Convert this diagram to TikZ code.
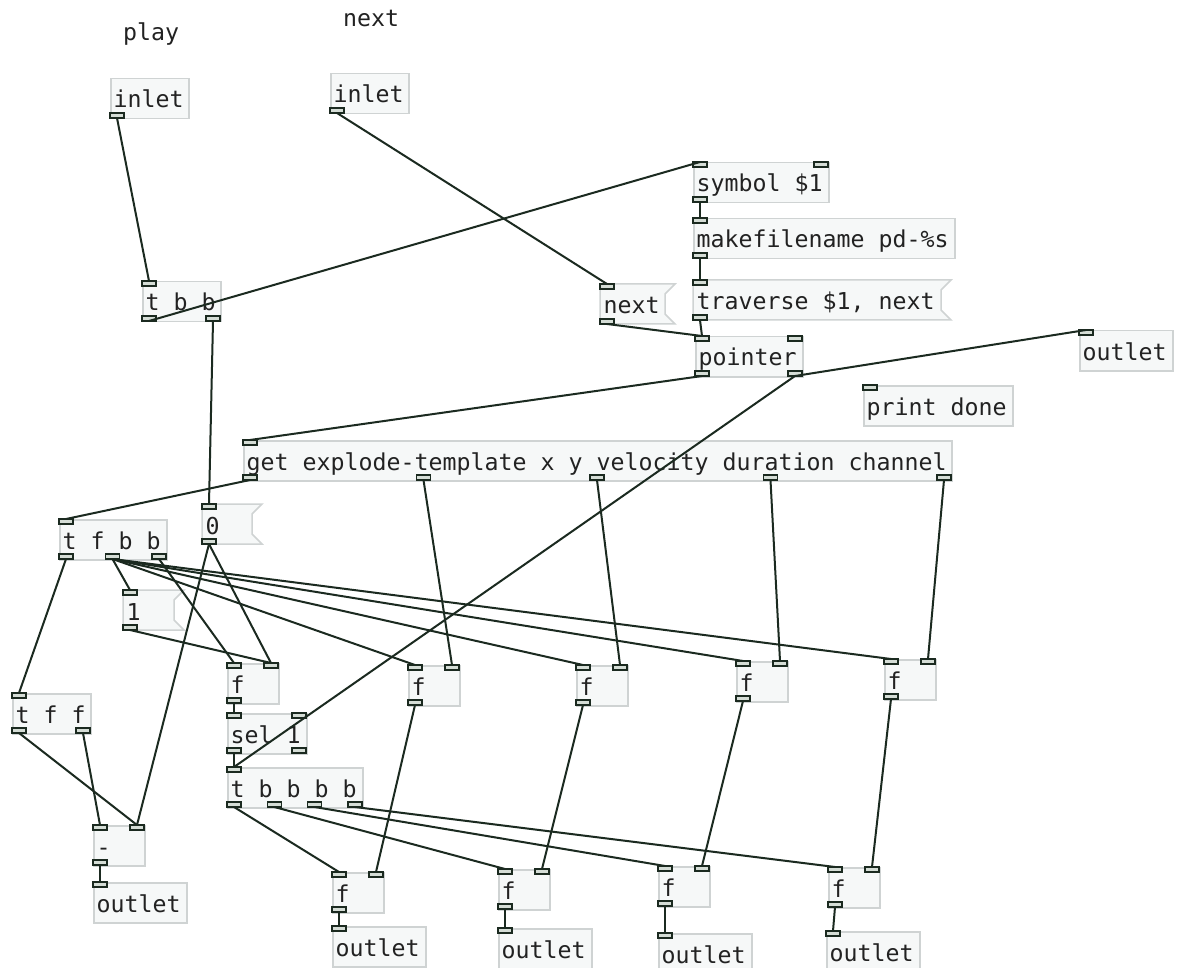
\documentclass[tikz,border=0pt]{standalone}
\usepackage{fontspec}
\newfontfamily\pdmono{DejaVu Sans Mono}
\definecolor{wirecol}{HTML}{1B2A20}
\definecolor{boxline}{HTML}{CFD3D3}
\definecolor{boxfill}{HTML}{F6F8F8}
\definecolor{nubfill}{HTML}{D5DDD6}
\definecolor{txt}{HTML}{222222}
\tikzset{
  pdbox/.style={draw=boxline, fill=boxfill, line width=1.5pt, rectangle, inner sep=0pt, minimum height=40pt, anchor=north west},
  pdghost/.style={rectangle, inner sep=0pt, minimum height=40pt, anchor=north west},
  msgshape/.style={draw=boxline, fill=boxfill, line width=1.5pt},
  pdtext/.style={font=\pdmono\fontsize{23.25pt}{28pt}\selectfont, text=txt, inner sep=0pt, anchor=base west},
  nub/.style={draw=wirecol, fill=nubfill, line width=1.2pt},
  wire/.style={draw=wirecol, line width=2pt},
}
\newcommand\pdports[6]{%
  \ifnum#5>0
  \foreach \k in {1,...,#5}{%
    \pgfmathsetmacro\px{#2+(#4-14)*(\k-1)/max(#5-1,1)}%
    \pgfmathtruncatemacro\kk{\k-1}%
    \draw[nub] (\px,#3) rectangle ++(14,5);
    \coordinate (#1-i\kk) at (\px+7,#3);
  }\fi
  \ifnum#6>0
  \foreach \k in {1,...,#6}{%
    \pgfmathsetmacro\px{#2+(#4-14)*(\k-1)/max(#6-1,1)}%
    \pgfmathtruncatemacro\kk{\k-1}%
    \draw[nub] (\px,#3+35) rectangle ++(14,5);
    \coordinate (#1-o\kk) at (\px+7,#3+40);
  }\fi}
\newcommand\pdobj[7]{%
  \node[pdbox, minimum width=#4pt] (#1) at (#2,#3) {};
  \node[pdtext] (#1-t) at ({#2+3.5},{#3+30}) {#5};
  \pdports{#1}{#2}{#3}{#4}{#6}{#7}}
\newcommand\pdmsg[5]{%
  \path[msgshape] (#2,#3) -- ++(#4+10,0) -- ++(-10,10) -- ++(0,20) -- ++(10,10) -- ++(-#4-10,0) -- cycle;
  \node[pdghost, minimum width=#4pt] (#1) at (#2,#3) {};
  \node[pdtext] (#1-t) at ({#2+3.5},{#3+30}) {#5};
  \pdports{#1}{#2}{#3}{#4}{1}{1}}
\begin{document}
\begin{tikzpicture}[x=1pt,y=-1pt]
\fill[white] (0,0) rectangle (1181,968);
\clip (0,0) rectangle (1181,968);
% comments
\node[pdtext] (play) at (123,41) {play};
\node[pdtext] (nextc) at (343,27) {next};
% objects
\pdobj{inA}{110}{78}{78}{inlet}{0}{1}
\pdobj{inB}{330}{73}{78}{inlet}{0}{1}
\pdobj{tbb}{142}{281}{78}{t b b}{1}{2}
\pdobj{sym}{693}{162}{135}{symbol \$1}{2}{1}
\pdobj{mkf}{693}{218}{261}{makefilename pd-\%s}{1}{1}
\pdmsg{trav}{693}{280}{248}{traverse \$1, next}
\pdmsg{nextm}{600}{284}{65}{next}
\pdobj{ptr}{695}{336}{107}{pointer}{2}{2}
\pdobj{outR}{1079}{330}{93}{outlet}{1}{0}
\pdobj{prt}{863}{385}{149}{print done}{1}{0}
\pdobj{get}{243}{440}{708}{get explode-template x y velocity duration channel}{1}{5}
\pdobj{tfbb}{59}{519}{107}{t f b b}{1}{3}
\pdmsg{zero}{202}{504}{50}{0}
\pdmsg{one}{123}{590}{51}{1}
\pdobj{tff}{12}{693}{78}{t f f}{1}{2}
\pdobj{minus}{93}{825}{51}{-}{2}{1}
\pdobj{outL}{93}{882}{93}{outlet}{1}{0}
\pdobj{fa}{227}{663}{51}{f}{2}{1}
\pdobj{sel}{227}{713}{79}{sel 1}{2}{2}
\pdobj{tbf}{227}{767}{135}{t b b b b}{1}{4}
\pdobj{fb}{408}{665}{51}{f}{2}{1}
\pdobj{fc}{576}{665}{51}{f}{2}{1}
\pdobj{fd}{736}{661}{51}{f}{2}{1}
\pdobj{fe}{884}{659}{51}{f}{2}{1}
\pdobj{ga}{332}{872}{51}{f}{2}{1}
\pdobj{gb}{498}{869}{51}{f}{2}{1}
\pdobj{gc}{658}{866}{51}{f}{2}{1}
\pdobj{gd}{828}{867}{51}{f}{2}{1}
\pdobj{oa}{332}{926}{93}{outlet}{1}{0}
\pdobj{ob}{498}{928}{93}{outlet}{1}{0}
\pdobj{oc}{658}{933}{93}{outlet}{1}{0}
\pdobj{od}{826}{931}{93}{outlet}{1}{0}
% wires
\draw[wire] (inA-o0) -- (tbb-i0);
\draw[wire] (inB-o0) -- (nextm-i0);
\draw[wire] (tbb-o0) -- (sym-i0);
\draw[wire] (tbb-o1) -- (zero-i0);
\draw[wire] (sym-o0) -- (mkf-i0);
\draw[wire] (mkf-o0) -- (trav-i0);
\draw[wire] (trav-o0) -- (ptr-i0);
\draw[wire] (nextm-o0) -- (ptr-i0);
\draw[wire] (ptr-o0) -- (get-i0);
\draw[wire] (ptr-o1) -- (outR-i0);
\draw[wire] (ptr-o1) -- (tbf-i0);
\draw[wire] (get-o0) -- (tfbb-i0);
\draw[wire] (get-o1) -- (fb-i1);
\draw[wire] (get-o2) -- (fc-i1);
\draw[wire] (get-o3) -- (fd-i1);
\draw[wire] (get-o4) -- (fe-i1);
\draw[wire] (tfbb-o0) -- (tff-i0);
\draw[wire] (tfbb-o1) -- (one-i0);
\draw[wire] (tfbb-o1) -- (fb-i0);
\draw[wire] (tfbb-o1) -- (fc-i0);
\draw[wire] (tfbb-o1) -- (fd-i0);
\draw[wire] (tfbb-o1) -- (fe-i0);
\draw[wire] (tfbb-o2) -- (fa-i0);
\draw[wire] (one-o0) -- (fa-i1);
\draw[wire] (zero-o0) -- (fa-i1);
\draw[wire] (zero-o0) -- (minus-i1);
\draw[wire] (tff-o0) -- (minus-i1);
\draw[wire] (tff-o1) -- (minus-i0);
\draw[wire] (minus-o0) -- (outL-i0);
\draw[wire] (fa-o0) -- (sel-i0);
\draw[wire] (sel-o0) -- (tbf-i0);
\draw[wire] (tbf-o0) -- (ga-i0);
\draw[wire] (tbf-o1) -- (gb-i0);
\draw[wire] (tbf-o2) -- (gc-i0);
\draw[wire] (tbf-o3) -- (gd-i0);
\draw[wire] (fb-o0) -- (ga-i1);
\draw[wire] (fc-o0) -- (gb-i1);
\draw[wire] (fd-o0) -- (gc-i1);
\draw[wire] (fe-o0) -- (gd-i1);
\draw[wire] (ga-o0) -- (oa-i0);
\draw[wire] (gb-o0) -- (ob-i0);
\draw[wire] (gc-o0) -- (oc-i0);
\draw[wire] (gd-o0) -- (od-i0);
\end{tikzpicture}
\end{document}
